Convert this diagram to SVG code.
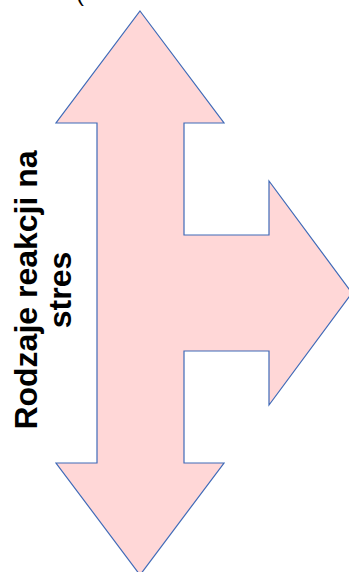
<svg xmlns="http://www.w3.org/2000/svg" width="349" height="572" viewBox="0 0 349 572">
<style>
.shape{fill:#FFD7D7;stroke:#3F6AB8;stroke-width:1.2}
.lbl{font-family:"Liberation Sans",Arial,sans-serif;font-weight:bold;font-size:32px;fill:#000;text-anchor:middle}
.paren{font-family:"Liberation Sans",Arial,sans-serif;font-size:24px;fill:#000}
</style>
<rect width="349" height="572" fill="#fff"/>
<g id="arrow">
<polygon class="shape" points="140,11 224,123 184,123 184,235 269,235 269,181 352,293 269,405 269,351 184,351 184,463 224,463 140,575 56,463 97,463 97,123 56,123"/>
</g>
<g id="label">
<text class="lbl" transform="translate(37,290) rotate(-90)">Rodzaje reakcji na</text>
<text class="lbl" transform="translate(71,290) rotate(-90)">stres</text>
</g>
<g id="paren">
<text class="paren" x="76" y="1">(</text>
</g>
</svg>
